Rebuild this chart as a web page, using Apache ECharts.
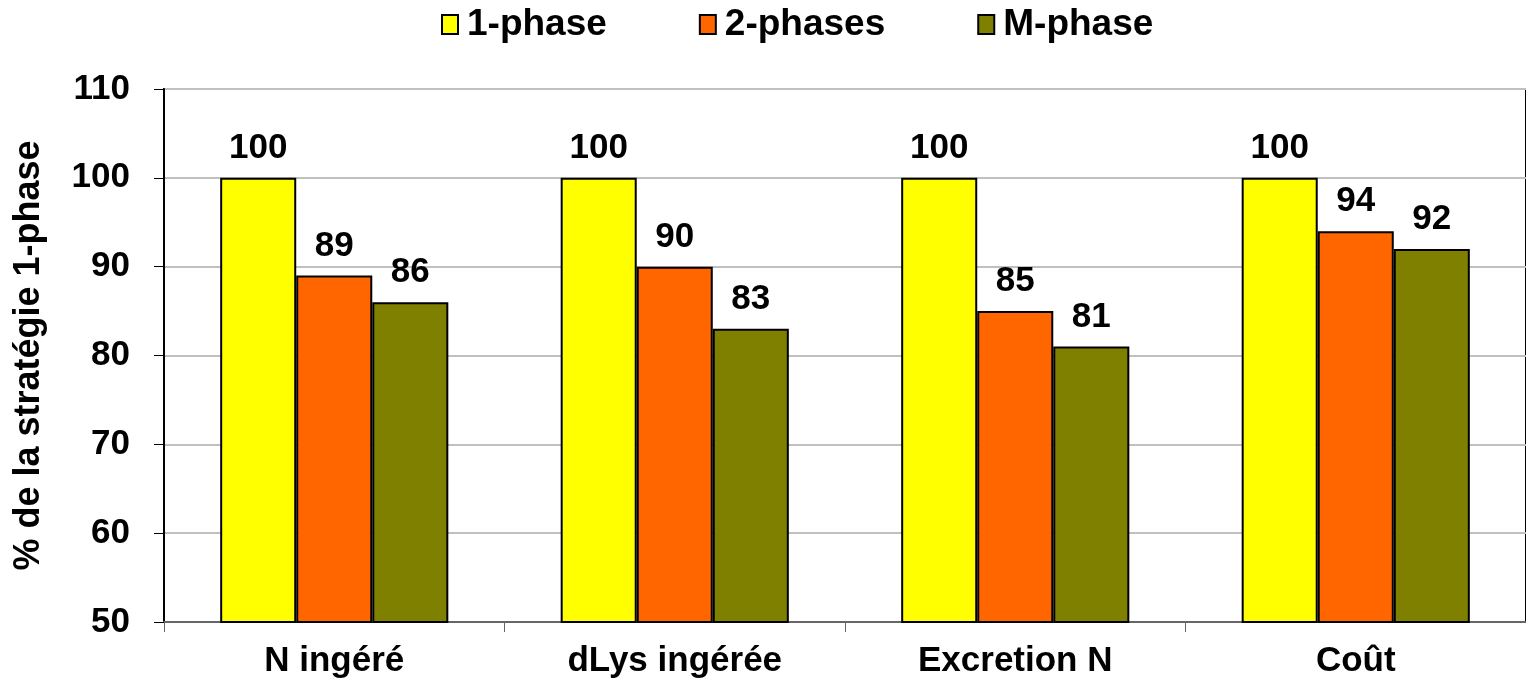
<!DOCTYPE html>
<html>
<head>
<meta charset="utf-8">
<script src="https://cdn.jsdelivr.net/npm/echarts@6/dist/echarts.min.js"></script>
<style>html,body{margin:0;padding:0;background:#fff;}#c{width:1526px;height:687px;}</style>
</head>
<body>
<div id="c"></div>
<script>
const categories = ['N ingéré', 'dLys ingérée', 'Excretion N', 'Coût'];
const onePhase = [100, 100, 100, 100];
const twoPhases = [89, 90, 85, 94];
const mPhase = [86, 83, 81, 92];
const seriesNames = ['1-phase', '2-phases', 'M-phase'];
const colors = ['#FFFF00', '#FF6600', '#808000'];
const font = 'Liberation Sans, Arial, sans-serif';

const chart = echarts.init(document.getElementById('c'));
const lbl = {show: true, position: 'top', distance: 12, color: '#000', fontWeight: 'bold', fontSize: 35, fontFamily: font};
const mk = (name, data, i) => ({
  name, type: 'bar', data, barGap: '0%', barCategoryGap: '33%',
  itemStyle: {color: colors[i], borderColor: '#000', borderWidth: 2},
  label: lbl
});
chart.setOption({
  animation: false,
  textStyle: {fontFamily: font},
  legend: {
    top: 1, left: 436, itemGap: 92, itemWidth: 16, itemHeight: 19,
    icon: 'rect',
    textStyle: {fontSize: 37, fontWeight: 'bold', color: '#000', fontFamily: font, padding: [0, 0, 0, 4]},
    data: seriesNames
  },
  grid: {left: 164, top: 89, right: -4, bottom: 65, show: true, borderColor: '#000', borderWidth: 2, backgroundColor: 'transparent'},
  xAxis: {
    type: 'category', data: categories,
    axisLine: {lineStyle: {color: '#666', width: 2}},
    axisTick: {show: true, length: 10, lineStyle: {color: '#666', width: 1}},
    axisLabel: {color: '#000', fontSize: 35, fontWeight: 'bold', margin: 22, fontFamily: font}
  },
  yAxis: {
    type: 'value', min: 50, max: 110, interval: 10,
    name: '% de la stratégie 1-phase', nameLocation: 'middle', nameGap: 117, nameRotate: 90,
    nameTextStyle: {fontSize: 36, fontWeight: 'bold', color: '#000', fontFamily: font},
    axisLine: {show: true, lineStyle: {color: '#000', width: 2}},
    axisTick: {show: true, length: 10, lineStyle: {color: '#000', width: 1}},
    axisLabel: {color: '#000', fontSize: 35, fontWeight: 'bold', margin: 34, fontFamily: font},
    splitLine: {lineStyle: {color: '#C0C0C0', width: 2}}
  },
  series: [mk(seriesNames[0], onePhase, 0), mk(seriesNames[1], twoPhases, 1), mk(seriesNames[2], mPhase, 2)]
});
</script>
</body>
</html>
